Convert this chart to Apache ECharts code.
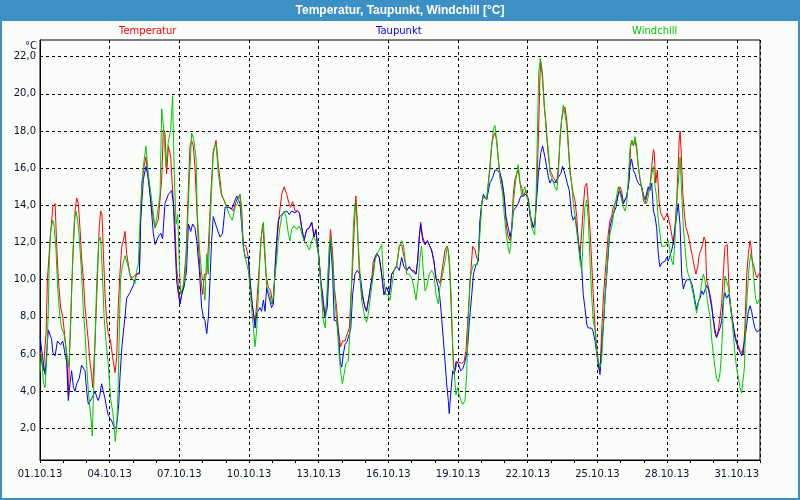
<!DOCTYPE html>
<html><head><meta charset="utf-8">
<script src="https://cdn.jsdelivr.net/npm/echarts@6/dist/echarts.min.js"></script>
<style>html,body{margin:0;padding:0;background:#fff}#c{width:800px;height:500px}</style>
</head><body><div id="c"></div>
<script>
// x values: days since 01.10.13 00:00
const dateLabels = ['01.10.13','04.10.13','07.10.13','10.10.13','13.10.13','16.10.13','19.10.13','22.10.13','25.10.13','28.10.13','31.10.13'];
const yTickValues = [2,4,6,8,10,12,14,16,18,20,22];
const seriesNames = ['Temperatur','Taupunkt','Windchill'];

const temperatur = [[0.00,6.2],[0.14,5.1],[0.26,7.1],[0.32,10.0],[0.43,12.1],[0.55,13.9],[0.65,14.1],[0.72,11.8],[0.79,10.0],[0.89,8.5],[0.98,8.0],[1.03,7.4],[1.08,6.8],[1.15,6.0],[1.22,3.8],[1.29,6.7],[1.36,9.4],[1.44,11.9],[1.51,13.7],[1.58,14.4],[1.65,14.1],[1.72,12.8],[1.79,11.2],[1.87,10.0],[1.94,8.5],[2.01,7.6],[2.08,6.7],[2.15,5.6],[2.22,4.9],[2.27,4.2],[2.37,6.7],[2.47,10.0],[2.55,12.8],[2.61,13.7],[2.67,13.5],[2.73,11.4],[2.80,9.2],[2.87,7.8],[2.94,7.1],[3.04,6.7],[3.13,5.8],[3.23,5.0],[3.30,5.8],[3.37,8.5],[3.44,10.3],[3.52,11.8],[3.59,12.1],[3.66,12.6],[3.73,11.4],[3.80,11.4],[3.87,10.3],[3.95,10.1],[4.02,10.0],[4.16,10.3],[4.28,10.3],[4.38,15.2],[4.48,16.1],[4.56,16.6],[4.66,15.4],[4.81,13.9],[4.95,12.8],[5.09,13.2],[5.24,15.4],[5.31,18.1],[5.38,17.9],[5.45,15.7],[5.53,17.2],[5.63,16.6],[5.68,15.4],[5.74,14.3],[5.81,13.0],[5.88,10.7],[5.96,9.6],[6.03,8.7],[6.10,9.2],[6.17,9.6],[6.29,11.4],[6.39,15.0],[6.46,17.2],[6.53,17.5],[6.60,17.2],[6.67,16.1],[6.75,13.9],[6.82,11.9],[6.89,10.5],[7.00,9.2],[7.08,10.3],[7.18,10.3],[7.25,11.8],[7.32,13.6],[7.39,15.4],[7.46,16.8],[7.58,17.5],[7.68,16.1],[7.75,15.4],[7.82,14.6],[7.89,14.5],[8.04,13.9],[8.18,13.9],[8.32,13.7],[8.47,14.3],
[8.61,14.6],[8.68,13.9],[8.75,11.9],[8.87,11.8],[8.97,11.2],[9.04,10.0],[9.16,8.5],[9.26,7.6],[9.36,9.2],[9.44,10.7],[9.51,12.1],[9.59,13.0],[9.64,13.0],[9.73,10.3],[9.83,9.6],[9.93,9.4],[10.02,8.7],[10.12,10.3],[10.19,11.9],[10.30,13.5],[10.41,14.6],[10.51,15.0],[10.62,14.6],[10.72,14.1],[10.79,13.9],[10.88,14.2],[10.98,13.7],[11.08,13.7],[11.17,13.6],[11.27,12.8],[11.37,12.1],[11.48,12.7],[11.60,12.8],[11.70,13.1],[11.80,12.3],[11.88,12.7],[11.94,11.9],[12.01,11.2],[12.08,10.1],[12.20,8.5],[12.28,8.0],[12.37,9.2],[12.46,11.8],[12.51,12.7],[12.60,11.4],[12.67,9.6],[12.77,8.5],[12.86,7.1],[12.94,6.4],[13.03,6.7],[13.13,6.7],[13.23,7.1],[13.32,7.4],[13.38,8.9],[13.46,10.7],[13.53,12.8],[13.60,14.5],[13.66,13.2],[13.75,10.3],[13.85,9.2],[13.95,8.7],[14.06,8.3],[14.18,9.2],[14.28,10.0],[14.35,11.0],[14.50,11.4],[14.61,11.2],[14.71,10.3],[14.81,9.2],[14.92,9.6],[15.04,9.2],[15.14,10.3],[15.24,10.5],[15.36,10.8],[15.47,11.8],[15.57,11.9],[15.64,11.8],[15.79,10.5],[15.90,10.7],[16.00,10.5],[16.10,10.5],[16.19,10.3],[16.26,11.0],[16.33,12.3],[16.39,13.1],[16.48,12.3],[16.58,11.9],[16.68,12.1],[16.76,12.0],[16.86,11.6],[16.96,11.0],[17.05,10.0],[17.15,10.0],
[17.22,9.8],[17.29,10.3],[17.37,11.0],[17.44,11.6],[17.51,11.8],[17.58,11.6],[17.65,10.3],[17.72,8.0],[17.80,5.3],[17.87,5.1],[17.97,5.6],[18.05,5.6],[18.16,5.5],[18.26,5.6],[18.34,6.2],[18.40,7.4],[18.49,9.2],[18.54,10.3],[18.63,11.8],[18.73,11.6],[18.80,11.2],[18.87,11.0],[18.94,12.8],[19.02,14.1],[19.09,14.5],[19.16,14.5],[19.23,14.3],[19.30,14.3],[19.37,16.1],[19.45,17.3],[19.52,17.7],[19.59,17.9],[19.66,17.5],[19.73,16.5],[19.81,15.7],[19.92,15.0],[20.02,13.9],[20.09,12.8],[20.16,12.3],[20.24,12.1],[20.31,12.8],[20.38,14.6],[20.45,15.4],[20.52,15.7],[20.59,15.9],[20.67,15.2],[20.74,15.0],[20.81,14.5],[20.92,14.8],[21.03,14.3],[21.10,13.6],[21.17,13.0],[21.24,12.8],[21.31,13.2],[21.38,14.6],[21.46,17.7],[21.53,21.1],[21.57,21.7],[21.64,21.0],[21.71,19.3],[21.79,18.4],[21.86,17.0],[21.96,15.9],[22.03,15.7],[22.10,15.5],[22.17,15.4],[22.25,15.2],[22.32,16.1],[22.39,17.5],[22.46,18.6],[22.53,19.1],[22.60,19.3],[22.68,18.6],[22.75,17.3],[22.82,15.9],[22.89,15.2],[22.96,14.6],[23.03,14.3],[23.11,13.4],[23.18,11.9],[23.25,11.4],[23.32,12.5],[23.39,13.9],[23.46,15.0],[23.54,15.2],[23.61,14.1],[23.68,12.7],[23.75,11.0],[23.82,9.2],[23.90,7.4],[23.97,6.3],[24.04,5.6],[24.11,5.1],[24.18,7.1],[24.25,8.9],[24.33,10.3],[24.40,11.4],[24.47,12.5],[24.54,13.2],[24.61,13.4],[24.68,13.9],[24.83,14.3],[24.97,15.0],
[25.04,14.8],[25.12,14.1],[25.26,14.5],[25.37,15.4],[25.43,17.2],[25.49,17.5],[25.55,17.2],[25.62,17.5],[25.69,17.0],[25.76,16.1],[25.83,15.4],[25.90,15.0],[25.98,14.3],[26.05,14.1],[26.12,14.1],[26.19,14.8],[26.26,15.0],[26.34,16.1],[26.41,17.0],[26.45,16.8],[26.51,15.2],[26.58,15.9],[26.65,14.3],[26.72,13.6],[26.80,13.4],[26.87,13.2],[26.94,13.4],[27.01,13.6],[27.08,13.2],[27.15,12.8],[27.23,12.2],[27.27,11.9],[27.34,12.8],[27.41,14.2],[27.48,16.2],[27.52,17.5],[27.56,18.0],[27.61,16.8],[27.67,14.8],[27.74,13.6],[27.81,12.8],[27.89,12.5],[27.96,12.1],[28.03,11.6],[28.10,11.2],[28.17,10.7],[28.24,10.3],[28.32,10.7],[28.39,11.4],[28.46,11.6],[28.53,11.9],[28.59,12.3],[28.65,12.1],[28.70,10.0],[28.78,9.6],[28.85,9.2],[28.92,8.7],[28.99,7.8],[29.06,7.1],[29.13,6.9],[29.21,7.3],[29.28,7.4],[29.35,8.7],[29.42,10.3],[29.49,11.8],[29.54,11.9],[29.59,11.9],[29.65,10.0],[29.71,8.7],[29.78,8.2],[29.85,7.4],[29.92,7.1],[29.99,6.7],[30.14,6.2],[30.28,6.0],[30.35,7.4],[30.43,10.3],[30.50,11.4],[30.57,12.1],[30.61,11.8],[30.67,11.0],[30.74,10.7],[30.81,10.3],[30.88,10.1],[30.94,10.3],[31.00,10.3]];

const taupunkt = [[0.00,7.0],[0.11,5.8],[0.22,4.9],[0.26,5.6],[0.36,7.3],[0.43,7.4],[0.50,6.8],[0.55,6.1],[0.65,5.9],[0.75,6.7],[0.83,6.7],[0.89,6.5],[0.98,6.7],[1.08,6.0],[1.15,5.6],[1.22,3.5],[1.29,4.4],[1.36,5.1],[1.44,4.2],[1.51,4.0],[1.58,4.4],[1.69,4.7],[1.79,5.4],[1.87,5.4],[1.94,5.1],[2.01,4.0],[2.08,3.3],[2.15,3.3],[2.22,3.6],[2.30,3.8],[2.37,4.0],[2.44,3.7],[2.51,3.5],[2.58,3.8],[2.65,4.4],[2.73,4.3],[2.80,3.6],[2.87,3.1],[2.94,2.7],[3.01,2.6],[3.09,2.4],[3.18,2.1],[3.27,2.0],[3.32,2.4],[3.39,3.3],[3.44,4.7],[3.52,6.3],[3.59,7.2],[3.66,8.0],[3.73,9.0],[3.87,9.3],[4.02,9.7],[4.16,10.3],[4.28,10.4],[4.33,13.2],[4.45,15.4],[4.56,16.1],[4.66,15.5],[4.74,14.6],[4.88,12.5],[4.95,11.9],[5.09,12.3],[5.20,12.5],[5.28,12.2],[5.38,14.1],[5.53,14.6],[5.67,14.8],[5.74,14.1],[5.81,12.1],[5.88,10.0],[5.96,9.2],[6.03,8.7],[6.10,9.2],[6.20,9.6],[6.31,10.5],[6.39,13.0],[6.49,12.6],[6.57,13.0],[6.67,12.8],[6.75,12.1],[6.86,10.5],[6.96,8.5],[7.03,8.0],[7.10,7.8],[7.18,7.1],[7.25,8.0],[7.32,10.0],[7.39,12.1],[7.46,13.4],[7.61,12.8],[7.75,12.3],[7.86,12.5],[7.97,13.9],[8.11,13.9],[8.25,13.8],[8.47,14.5],
[8.61,14.1],[8.68,13.0],[8.75,11.9],[8.83,11.2],[8.97,11.2],[9.04,10.0],[9.11,8.9],[9.19,8.2],[9.26,7.4],[9.33,8.2],[9.40,8.2],[9.47,8.5],[9.54,8.3],[9.62,8.9],[9.69,8.3],[9.76,9.6],[9.83,9.2],[9.90,9.2],[9.97,8.5],[10.05,8.7],[10.12,10.7],[10.19,12.1],[10.26,13.2],[10.33,13.4],[10.48,13.6],[10.62,13.7],[10.74,13.5],[10.83,13.7],[10.98,13.6],[11.08,13.7],[11.17,13.6],[11.27,12.8],[11.37,12.1],[11.48,12.7],[11.60,12.8],[11.70,13.1],[11.80,12.3],[11.88,12.7],[11.94,11.9],[12.01,11.2],[12.08,10.0],[12.17,9.2],[12.27,8.0],[12.37,8.5],[12.46,11.0],[12.51,12.1],[12.60,10.3],[12.67,7.8],[12.77,7.8],[12.86,7.1],[12.92,5.6],[12.99,5.3],[13.06,6.0],[13.13,6.5],[13.23,6.7],[13.32,7.1],[13.38,7.4],[13.46,9.2],[13.56,10.3],[13.66,10.5],[13.78,10.3],[13.89,9.2],[13.99,8.5],[14.06,8.3],[14.18,9.2],[14.28,10.0],[14.35,10.3],[14.42,11.2],[14.50,11.4],[14.61,11.2],[14.71,10.3],[14.81,9.2],[14.92,9.6],[15.04,9.2],[15.14,10.3],[15.24,10.5],[15.36,10.7],[15.47,10.5],[15.57,11.2],[15.67,10.7],[15.79,10.5],[15.90,10.7],[16.00,10.5],[16.07,10.5],[16.19,10.3],[16.26,11.0],[16.33,12.3],[16.39,13.0],[16.48,12.1],[16.58,11.9],[16.68,12.1],[16.76,12.0],[16.86,11.6],[16.96,11.0],[17.05,10.1],[17.15,9.6],
[17.22,9.0],[17.29,8.0],[17.37,6.7],[17.44,5.6],[17.51,4.4],[17.58,3.5],[17.62,2.8],[17.68,3.8],[17.77,5.1],[17.84,4.9],[17.91,5.6],[18.01,5.5],[18.11,5.1],[18.20,5.2],[18.30,5.6],[18.40,6.2],[18.49,7.8],[18.59,9.2],[18.66,10.3],[18.77,10.8],[18.87,11.0],[18.94,13.2],[19.02,14.1],[19.09,14.6],[19.16,14.7],[19.23,14.3],[19.30,14.3],[19.37,15.2],[19.49,15.5],[19.59,15.9],[19.69,15.9],[19.81,15.7],[19.88,15.4],[19.98,14.6],[20.06,13.4],[20.16,12.8],[20.24,12.3],[20.31,12.7],[20.38,13.7],[20.49,13.9],[20.59,14.1],[20.70,14.5],[20.81,14.5],[20.92,14.6],[21.03,14.3],[21.10,13.4],[21.17,13.2],[21.24,12.8],[21.31,13.0],[21.38,14.3],[21.46,15.7],[21.56,16.8],[21.64,17.2],[21.74,16.6],[21.81,16.1],[21.89,15.5],[21.96,15.2],[22.03,15.4],[22.10,15.4],[22.17,15.2],[22.25,15.4],[22.32,15.4],[22.42,15.7],[22.50,16.1],[22.60,15.7],[22.70,15.2],[22.79,14.8],[22.89,13.5],[22.96,13.2],[23.03,13.4],[23.11,12.8],[23.18,12.1],[23.25,11.4],[23.32,10.7],[23.39,9.2],[23.46,8.5],[23.54,7.6],[23.61,7.4],[23.68,7.4],[23.75,7.4],[23.82,7.2],[23.90,6.7],[23.97,6.0],[24.04,5.4],[24.11,4.9],[24.18,6.3],[24.25,7.4],[24.33,9.0],[24.40,10.3],[24.47,11.4],[24.54,12.8],[24.61,13.2],[24.68,13.5],[24.80,13.9],[24.90,14.6],
[24.97,14.8],[25.04,14.5],[25.12,14.1],[25.19,14.3],[25.26,14.5],[25.33,15.0],[25.40,16.1],[25.47,16.5],[25.55,15.9],[25.62,15.7],[25.69,15.4],[25.76,15.2],[25.83,15.2],[25.90,15.0],[25.98,14.6],[26.05,14.3],[26.12,14.3],[26.19,15.0],[26.26,14.8],[26.34,15.2],[26.41,13.7],[26.48,13.4],[26.55,12.8],[26.62,11.4],[26.69,10.7],[26.77,10.9],[26.84,11.0],[26.91,11.0],[26.98,11.2],[27.05,11.0],[27.12,11.1],[27.20,11.6],[27.27,12.0],[27.34,12.8],[27.41,13.4],[27.48,14.1],[27.56,12.9],[27.63,10.2],[27.70,9.5],[27.77,9.8],[27.84,10.0],[27.99,10.0],[28.06,9.8],[28.13,9.4],[28.20,8.9],[28.27,8.4],[28.34,8.8],[28.42,9.0],[28.49,9.4],[28.56,9.2],[28.63,9.3],[28.70,9.7],[28.78,9.5],[28.85,9.0],[28.92,8.5],[28.99,7.9],[29.06,7.3],[29.13,6.9],[29.21,7.0],[29.28,7.4],[29.35,7.8],[29.42,8.9],[29.49,9.3],[29.56,9.0],[29.64,9.2],[29.71,8.9],[29.78,8.0],[29.85,7.6],[29.92,6.9],[29.99,6.6],[30.07,6.3],[30.14,6.1],[30.21,5.9],[30.28,6.0],[30.35,6.8],[30.43,7.6],[30.50,8.3],[30.57,8.6],[30.64,8.3],[30.71,7.8],[30.78,7.4],[30.86,7.2],[30.93,7.1],[31.00,7.3]];

const windchill = [[0.00,5.0],[0.07,6.0],[0.14,4.5],[0.22,4.2],[0.29,5.8],[0.36,8.5],[0.40,11.0],[0.46,12.6],[0.55,13.2],[0.60,13.0],[0.69,11.6],[0.75,9.8],[0.80,8.9],[0.86,8.0],[0.93,7.4],[1.03,7.1],[1.12,6.3],[1.18,5.8],[1.23,5.3],[1.26,5.8],[1.32,7.6],[1.41,11.2],[1.48,13.2],[1.55,13.7],[1.62,13.2],[1.69,12.3],[1.79,10.3],[1.87,8.3],[1.94,7.1],[2.01,5.4],[2.08,4.0],[2.15,3.1],[2.22,2.2],[2.25,1.6],[2.30,3.6],[2.37,6.7],[2.44,9.8],[2.53,12.1],[2.61,12.3],[2.67,10.8],[2.76,8.0],[2.84,6.7],[2.94,5.4],[3.04,3.6],[3.13,2.9],[3.19,2.2],[3.24,1.3],[3.30,2.0],[3.36,4.0],[3.42,7.6],[3.47,10.1],[3.56,10.8],[3.66,11.3],[3.73,11.0],[3.80,10.7],[3.90,10.1],[4.02,10.0],[4.09,9.8],[4.16,10.5],[4.23,10.8],[4.33,13.9],[4.45,16.1],[4.56,17.2],[4.66,15.7],[4.81,14.3],[4.95,12.8],[5.05,13.5],[5.17,14.6],[5.24,19.2],[5.34,17.9],[5.42,16.1],[5.53,17.5],[5.63,18.1],[5.71,19.9],[5.78,15.7],[5.86,13.0],[5.93,13.5],[6.00,10.7],[6.06,9.2],[6.14,9.6],[6.24,10.0],[6.31,11.6],[6.43,15.4],[6.53,17.9],[6.63,17.5],[6.72,16.5],[6.77,13.5],[6.86,11.8],[6.96,10.3],[7.03,10.0],[7.10,8.9],[7.18,11.4],[7.25,10.3],[7.32,13.2],[7.39,14.8],[7.46,17.0],[7.58,17.3],[7.68,15.7],[7.75,15.0],[7.82,14.5],[7.92,14.3],[8.04,13.9],[8.15,13.5],[8.28,13.2],[8.40,13.9],[8.50,14.1],
[8.61,14.6],[8.68,13.2],[8.75,11.8],[8.87,11.0],[8.97,10.5],[9.04,9.6],[9.11,8.5],[9.19,7.4],[9.26,6.4],[9.33,7.3],[9.40,9.2],[9.47,11.2],[9.54,12.5],[9.62,13.1],[9.69,11.4],[9.76,9.6],[9.83,9.6],[9.90,9.2],[9.97,8.7],[10.05,9.0],[10.12,10.3],[10.19,11.0],[10.26,12.1],[10.33,12.8],[10.41,13.4],[10.51,13.7],[10.59,13.4],[10.69,12.5],[10.76,12.1],[10.83,12.7],[10.94,12.9],[11.05,12.7],[11.17,12.9],[11.27,12.5],[11.37,12.1],[11.48,11.9],[11.60,11.6],[11.70,12.1],[11.77,12.3],[11.88,12.1],[11.98,11.4],[12.05,10.5],[12.13,9.0],[12.20,7.8],[12.28,7.4],[12.37,9.6],[12.46,11.8],[12.51,12.3],[12.60,11.0],[12.70,8.9],[12.80,7.4],[12.89,5.8],[12.94,5.1],[13.02,4.4],[13.09,4.9],[13.17,5.5],[13.27,5.6],[13.35,7.4],[13.42,10.0],[13.49,12.8],[13.56,14.1],[13.63,13.5],[13.71,11.8],[13.78,10.3],[13.85,8.9],[13.95,8.2],[14.06,7.7],[14.14,8.2],[14.21,8.9],[14.32,10.0],[14.42,11.0],[14.52,11.4],[14.61,11.6],[14.71,11.9],[14.78,10.3],[14.88,9.2],[14.97,9.2],[15.07,8.9],[15.14,9.6],[15.24,10.5],[15.36,10.7],[15.47,11.8],[15.57,12.1],[15.64,11.9],[15.71,11.2],[15.79,10.3],[15.90,10.3],[16.00,10.1],[16.10,9.6],[16.19,8.9],[16.29,10.0],[16.36,11.2],[16.43,11.8],[16.50,10.5],[16.58,9.4],[16.65,9.6],[16.76,10.3],[16.86,10.5],[16.96,10.3],[17.05,9.2],[17.15,8.7],
[17.22,9.6],[17.34,10.3],[17.44,11.0],[17.54,11.8],[17.62,11.2],[17.70,9.2],[17.77,6.4],[17.84,4.9],[17.91,3.8],[17.98,4.2],[18.05,3.8],[18.13,3.5],[18.20,3.3],[18.30,3.5],[18.37,4.9],[18.44,7.8],[18.51,10.0],[18.59,10.5],[18.66,10.8],[18.73,10.7],[18.83,10.8],[18.92,12.1],[19.02,14.1],[19.09,14.5],[19.16,14.5],[19.23,14.3],[19.30,14.3],[19.37,15.9],[19.45,17.2],[19.52,18.1],[19.59,18.3],[19.66,17.5],[19.73,16.5],[19.81,15.4],[19.92,14.6],[19.99,13.5],[20.06,12.6],[20.15,11.8],[20.21,11.4],[20.26,11.8],[20.32,12.8],[20.38,14.1],[20.45,15.0],[20.52,15.7],[20.59,16.2],[20.67,15.2],[20.74,14.5],[20.81,14.8],[20.88,15.0],[20.95,14.6],[21.03,14.5],[21.10,13.7],[21.17,12.8],[21.24,12.6],[21.30,12.4],[21.35,13.9],[21.41,17.5],[21.47,21.1],[21.54,21.9],[21.61,21.1],[21.67,20.2],[21.74,19.0],[21.81,17.7],[21.89,17.0],[21.96,15.7],[22.03,15.5],[22.10,15.4],[22.17,15.0],[22.25,14.8],[22.32,15.7],[22.39,17.7],[22.46,18.6],[22.53,19.4],[22.60,19.3],[22.68,18.3],[22.75,17.0],[22.82,15.7],[22.89,15.2],[22.96,14.1],[23.03,13.5],[23.11,12.6],[23.18,11.9],[23.25,11.0],[23.32,10.5],[23.39,12.3],[23.46,13.9],[23.54,14.3],[23.61,13.2],[23.68,11.0],[23.75,9.2],[23.82,7.8],[23.90,7.3],[23.97,6.0],[24.04,5.6],[24.11,5.3],[24.18,5.6],[24.25,7.4],[24.33,9.2],[24.40,10.3],[24.47,11.8],[24.54,12.5],[24.61,12.8],[24.68,13.4],[24.76,14.1],[24.83,14.5],[24.90,15.0],
[24.97,15.0],[25.04,14.3],[25.12,13.9],[25.19,13.7],[25.26,14.1],[25.33,15.4],[25.40,17.0],[25.47,17.5],[25.55,17.2],[25.62,17.7],[25.69,17.2],[25.76,16.1],[25.83,15.5],[25.90,15.0],[25.98,14.5],[26.05,14.3],[26.12,14.1],[26.19,14.5],[26.26,14.6],[26.34,15.7],[26.41,16.1],[26.48,15.0],[26.55,14.5],[26.62,13.2],[26.69,12.5],[26.77,11.8],[26.84,11.8],[26.91,11.8],[26.98,11.9],[27.05,12.1],[27.12,11.6],[27.20,11.0],[27.27,10.8],[27.34,12.2],[27.41,14.0],[27.48,15.2],[27.56,16.6],[27.63,14.6],[27.70,12.8],[27.77,11.8],[27.84,10.7],[27.91,10.3],[27.99,10.0],[28.06,9.6],[28.13,9.2],[28.20,8.7],[28.27,8.2],[28.34,8.7],[28.42,9.2],[28.49,9.8],[28.56,10.3],[28.63,10.0],[28.70,9.2],[28.78,8.5],[28.85,8.0],[28.92,6.8],[28.99,6.0],[29.06,5.3],[29.13,4.7],[29.21,4.5],[29.28,5.0],[29.35,6.2],[29.42,8.5],[29.49,10.2],[29.56,10.2],[29.64,9.6],[29.71,8.9],[29.78,8.0],[29.85,7.1],[29.92,6.0],[29.99,5.3],[30.07,4.7],[30.14,4.2],[30.21,3.9],[30.28,3.9],[30.33,5.3],[30.38,7.6],[30.45,9.2],[30.53,10.7],[30.60,11.4],[30.67,11.0],[30.74,10.0],[30.81,9.0],[30.88,8.7],[30.94,8.9],[31.00,8.7]];

const colors = ['#ff0000', '#0000ff', '#00c800'];
const legendLeft = [114, 371, 627];
const FONT = 'DejaVu Sans';
const BLUE = '#3d90c6';

const chart = echarts.init(document.getElementById('c'), null, {renderer: 'canvas'});
const dataSets = [temperatur, taupunkt, windchill];

chart.setOption({
  animation: false,
  backgroundColor: '#fbfdfb',
  graphic: [
    {type: 'rect', z: 0, shape: {x: 0, y: 0, width: 800, height: 21}, style: {fill: BLUE}},
    {type: 'rect', z: 0, shape: {x: 1, y: 1, width: 798, height: 498}, style: {fill: null, stroke: BLUE, lineWidth: 2}},
    {type: 'text', z: 10, style: {text: 'Temperatur, Taupunkt, Windchill [°C]', x: 400, y: 11, align: 'center', verticalAlign: 'middle', fill: '#ffffff', font: 'bold 12px "Liberation Sans"'}},
    {type: 'text', z: 10, style: {text: '°C', x: 37, y: 46, align: 'right', verticalAlign: 'middle', fill: '#10102a', font: '10px "' + FONT + '"'}}
  ],
  legend: seriesNames.map((n, i) => ({
    data: [n], left: legendLeft[i], top: 25, icon: 'none', itemWidth: 0, itemHeight: 12, itemGap: 0,
    selectedMode: false, padding: 0,
    textStyle: {color: colors[i], fontFamily: FONT, fontSize: 10}
  })),
  grid: {left: 40, right: 40, top: 40, bottom: 40, show: true, borderColor: '#000', borderWidth: 1, backgroundColor: 'transparent'},
  xAxis: [
    {type: 'value', min: 0, max: 31, interval: 1, position: 'bottom',
     axisLine: {show: true, onZero: false, lineStyle: {color: '#000', width: 1}},
     axisTick: {show: true, length: 3, lineStyle: {color: '#000'}},
     axisLabel: {show: false}, splitLine: {show: false}},
    {type: 'value', min: 0, max: 31, interval: 3, position: 'bottom',
     axisLine: {show: false}, axisTick: {show: false},
     axisLabel: {show: true, margin: 9, showMaxLabel: false, color: '#10102a', fontFamily: FONT, fontSize: 10,
       formatter: v => (v % 3 === 0 && dateLabels[v / 3]) ? dateLabels[v / 3] : ''},
     splitLine: {show: true, lineStyle: {color: '#000', width: 1, type: [3, 3]}}}
  ],
  yAxis: {
    type: 'value', min: 0.3, max: 22.9,
    axisLine: {show: true, lineStyle: {color: '#000', width: 1}},
    axisTick: {show: false, customValues: yTickValues},
    axisLabel: {show: true, customValues: yTickValues, margin: 4, color: '#10102a', fontFamily: FONT, fontSize: 10,
      formatter: v => v.toFixed(1).replace('.', ',')},
    splitLine: {show: true, lineStyle: {color: '#000', width: 1, type: [3, 3]}}
  },
  series: seriesNames.map((n, i) => ({
    name: n, type: 'line', xAxisIndex: 0, data: dataSets[i], showSymbol: false, symbol: 'none',
    lineStyle: {color: colors[i], width: 1}, itemStyle: {color: colors[i]}, emphasis: {disabled: true}
  }))
});
</script>
</body></html>
